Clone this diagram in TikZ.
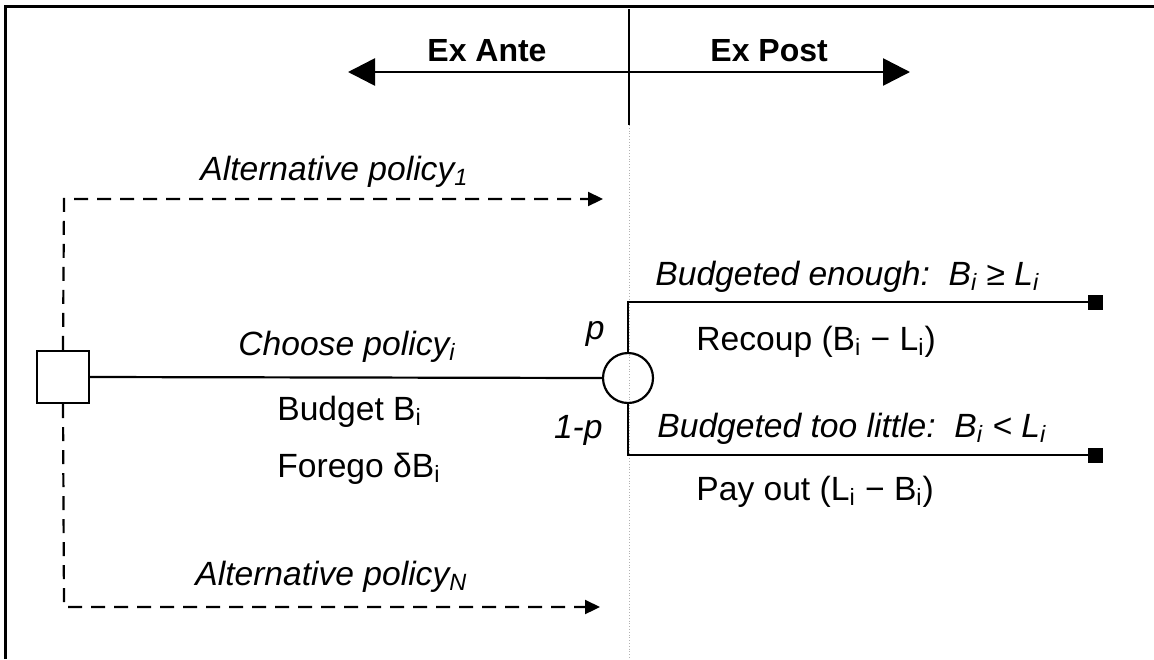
\documentclass[tikz,border=0pt]{standalone}
\usepackage{fontspec}
\setmainfont{Liberation Sans}
\usetikzlibrary{arrows.meta}
\begin{document}
\begin{tikzpicture}[x=0.5pt,y=-0.5pt,
  lbl/.style={inner sep=0pt, anchor=base west, font=\fontsize{16.8}{20}\selectfont},
  ilbl/.style={inner sep=0pt, anchor=base west, font=\fontsize{16.8}{20}\selectfont\itshape},
  hdr/.style={inner sep=0pt, anchor=base west, font=\fontsize{16}{19}\selectfont\bfseries},
  ln/.style={line width=1.1pt},
  dsh/.style={line width=1.1pt, dash pattern=on 7pt off 4.5pt},
  smalltip/.style={-{Triangle[length=7.5pt,width=7pt]}},
  bigtips/.style={{Triangle[length=13.5pt,width=13.5pt]}-{Triangle[length=13.5pt,width=13.5pt]}},
  endbox/.style={fill, minimum size=7.5pt, inner sep=0pt},
]
\useasboundingbox (0,0) rectangle (1154,659);
\fill[white] (0,0) rectangle (1154,659);
% frame
\coordinate (fbl) at (5,659);
\coordinate (ftl) at (5,6.5);
\coordinate (ftr) at (1154,6.5);
\draw[line width=1.5pt] (fbl) -- (ftl) -- (ftr);
% divider
\coordinate (dtop) at (629,9);
\coordinate (dmid) at (629,125);
\coordinate (dbot) at (629,659);
\draw[line width=0.75pt] (dtop) -- (dmid);
\draw[gray!60, line width=0.4pt, densely dotted] (dmid) -- (dbot);
% ex ante / ex post
\coordinate (ante) at (348,72);
\coordinate (post) at (910,72);
\draw[line width=1.3pt, bigtips] (ante) -- (post);
\node[hdr] (exante) at (427,61) {Ex Ante};
\node[hdr] (expost) at (710,61) {Ex Post};
% decision and chance nodes
\node[draw, line width=1.1pt, minimum size=26pt, inner sep=0pt] (dec) at (63,377) {};
\node[draw, circle, line width=1.1pt, minimum size=25pt, inner sep=0pt] (chance) at (628,378) {};
\draw[ln] (dec.east) -- (chance.west);
% alternative policies
\coordinate (a1) at (64,199);
\coordinate (a1e) at (603,199);
\coordinate (aN) at (64,607);
\coordinate (aNe) at (600,607);
\draw[dsh, smalltip] (dec.north) -- (a1) -- (a1e);
\draw[dsh, smalltip] (dec.south) -- (aN) -- (aNe);
% outcome branches
\coordinate (up) at (628,302);
\coordinate (dn) at (628,455);
\node[endbox] (end1) at (1095,302) {};
\node[endbox] (end2) at (1095,455) {};
\draw[ln] (chance.north) -- (up) -- (end1.center);
\draw[ln] (chance.south) -- (dn) -- (end2.center);
% labels
\node[ilbl] (alt1) at (200,180) {Alternative policy\textsubscript{1}};
\node[ilbl] (altN) at (195,585) {Alternative policy\textsubscript{N}};
\node[ilbl] (choose) at (238,355) {Choose policy\textsubscript{i}};
\node[lbl] (budget) at (277,420) {Budget B\textsubscript{i}};
\node[lbl] (forego) at (277,477) {Forego δB\textsubscript{i}};
\node[ilbl, anchor=base east] (pl) at (605,339) {p};
\node[ilbl, anchor=base east] (ql) at (603,438) {1-p};
\node[ilbl] (enough) at (655,285) {Budgeted enough:\ \ B\textsubscript{i} ≥ L\textsubscript{i}};
\node[lbl] (recoup) at (696,350) {Recoup (B\textsubscript{i} − L\textsubscript{i})};
\node[ilbl] (little) at (657,437) {Budgeted too little:\ \ B\textsubscript{i} < L\textsubscript{i}};
\node[lbl] (payout) at (696,500) {Pay out (L\textsubscript{i} − B\textsubscript{i})};
\end{tikzpicture}
\end{document}
